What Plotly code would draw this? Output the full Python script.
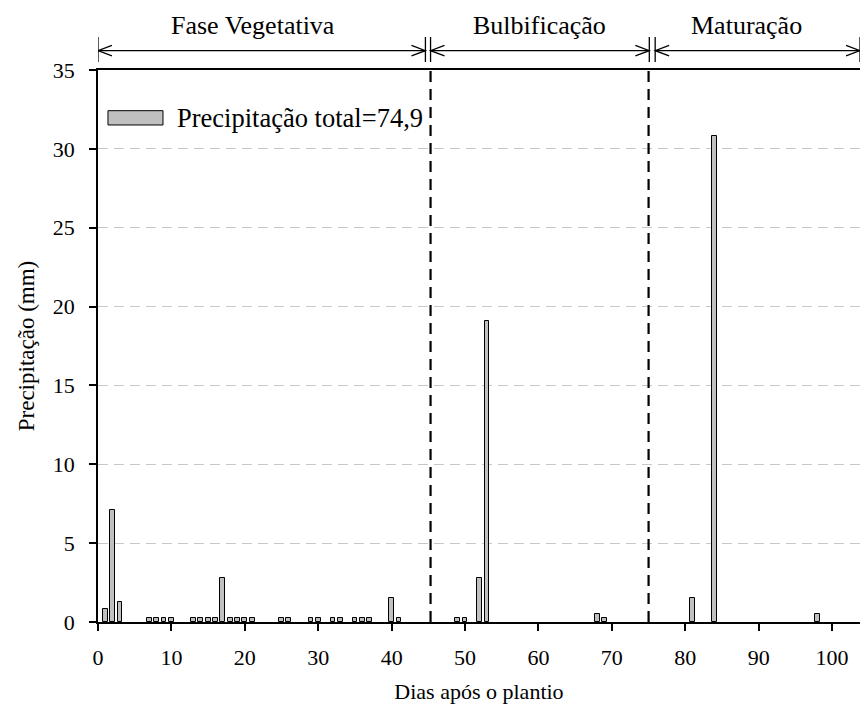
import plotly.graph_objects as go

# ---- data ----
days = [1, 2, 3, 7, 8, 9, 10, 13, 14, 15, 16, 17, 18, 19, 20, 21,
        25, 26, 29, 30, 32, 33, 35, 36, 37, 40, 41,
        49, 50, 52, 53, 68, 69, 81, 84, 98]
rain = [0.8, 7.1, 1.3, 0.25, 0.25, 0.25, 0.25, 0.25, 0.25, 0.25, 0.25, 2.8,
        0.25, 0.25, 0.25, 0.25, 0.25, 0.25, 0.25, 0.25, 0.25, 0.25, 0.25, 0.25,
        0.25, 1.5, 0.25, 0.25, 0.25, 2.8, 19.1, 0.5, 0.25, 1.5, 30.8, 0.5]

x_ticks = [0, 10, 20, 30, 40, 50, 60, 70, 80, 90, 100]
y_ticks = [0, 5, 10, 15, 20, 25, 30, 35]

phase_names = ["Fase Vegetativa", "Bulbificação", "Maturação"]
phase_start = [0, 45.3, 75.9]
phase_end = [44.6, 75.1, 103.8]
phase_label_x = [21.1, 60.2, 88.4]
phase_dividers = [45.3, 75.0]

legend_label = "Precipitação total=74,9"
x_title = "Dias após o plantio"
y_title = "Precipitação (mm)"

FONT = "Liberation Serif"
BAR_FILL = "#c0c0c0"

fig = go.Figure()
fig.add_trace(go.Bar(
    x=days, y=rain, width=0.65,
    marker=dict(color=BAR_FILL, line=dict(color="black", width=1)),
    showlegend=False,
))

shapes = []
annotations = []

# dashed phase dividers
for xd in phase_dividers:
    shapes.append(dict(type="line", xref="x", yref="paper", x0=xd, x1=xd, y0=0, y1=1,
                       line=dict(color="black", width=2.2, dash="11px,7px")))

# phase arrows above plot
y_arrow = 1.035
y_bar0, y_bar1 = 1.0145, 1.0598
hx, hy = 1.9, 0.0095
for name, s, e, lx in zip(phase_names, phase_start, phase_end, phase_label_x):
    ln = dict(color="black", width=1.3)
    shapes.append(dict(type="line", xref="x", yref="paper", x0=s, x1=e, y0=y_arrow, y1=y_arrow, line=ln))
    shapes.append(dict(type="line", xref="x", yref="paper", x0=s, x1=s, y0=y_bar0, y1=y_bar1, line=ln))
    shapes.append(dict(type="line", xref="x", yref="paper", x0=e, x1=e, y0=y_bar0, y1=y_bar1, line=ln))
    shapes.append(dict(type="path", xref="x", yref="paper",
                       path=f"M {s+hx},{y_arrow+hy} L {s},{y_arrow} L {s+hx},{y_arrow-hy}", line=ln))
    shapes.append(dict(type="path", xref="x", yref="paper",
                       path=f"M {e-hx},{y_arrow+hy} L {e},{y_arrow} L {e-hx},{y_arrow-hy}", line=ln))
    annotations.append(dict(text=name, x=lx, xref="x", y=1.0815, yref="paper",
                            showarrow=False, xanchor="center", yanchor="middle",
                            font=dict(family=FONT, size=26, color="black")))

# manual legend
shapes.append(dict(type="rect", xref="paper", yref="paper", x0=0.0131, x1=0.0853, y0=0.9004, y1=0.9263,
                   fillcolor=BAR_FILL, line=dict(color="black", width=1)))
annotations.append(dict(text=legend_label, x=0.101, xref="paper", y=0.9134, yref="paper",
                        showarrow=False, xanchor="left", yanchor="middle",
                        font=dict(family=FONT, size=26.5, color="black")))

fig.update_layout(
    width=861, height=704,
    margin=dict(l=98, r=1, t=70, b=82),
    plot_bgcolor="white", paper_bgcolor="white",
    font=dict(family=FONT, size=22, color="black"),
    shapes=shapes, annotations=annotations,
    bargap=0,
)
fig.update_xaxes(
    range=[0, 103.8], tickvals=x_ticks, ticktext=[str(t) for t in x_ticks],
    showline=True, linecolor="black", linewidth=1.5, mirror=True,
    ticks="outside", ticklen=7, tickwidth=1.5, tickcolor="black",
    showgrid=False, zeroline=False,
    title=dict(text=x_title, standoff=14, font=dict(family=FONT, size=22, color="black")),
    tickfont=dict(family=FONT, size=22, color="black"), ticklabelstandoff=8,
)
fig.update_yaxes(
    range=[0, 35], tickvals=y_ticks, ticktext=[str(t) for t in y_ticks],
    showline=True, linecolor="black", linewidth=1.5,
    ticks="outside", ticklen=7, tickwidth=1.5, tickcolor="black",
    showgrid=True, gridcolor="#c8c8c8", gridwidth=1, griddash="10px,6px",
    zeroline=False,
    title=dict(text=y_title, standoff=12, font=dict(family=FONT, size=23, color="black")),
    tickfont=dict(family=FONT, size=22, color="black"), ticklabelstandoff=10,
)

fig.write_html("out.html")
